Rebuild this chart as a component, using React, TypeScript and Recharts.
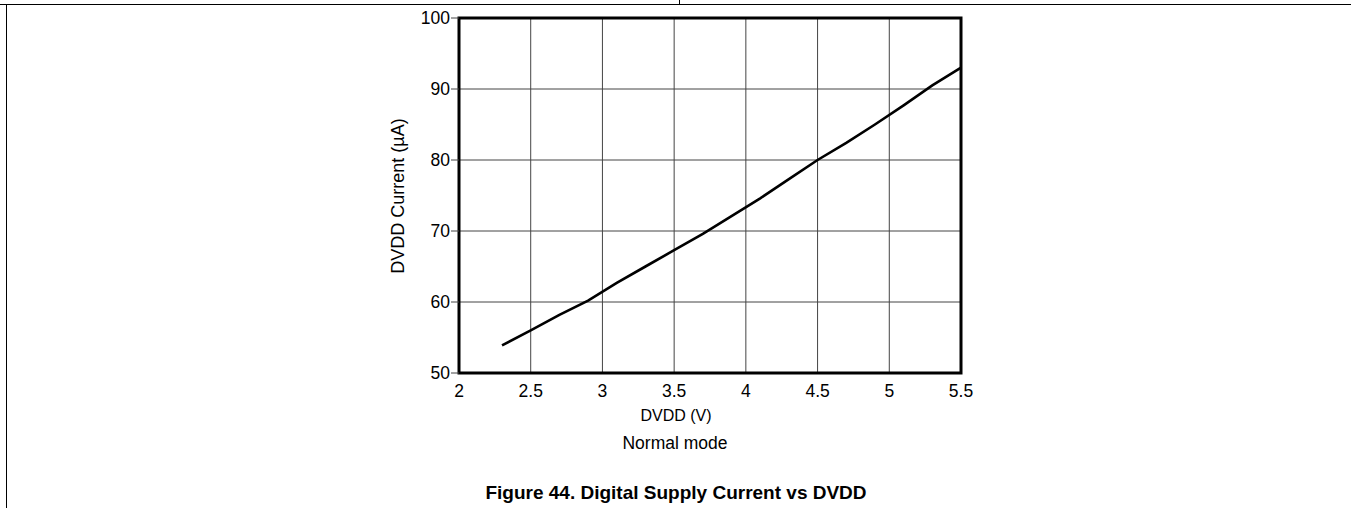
import React from 'react';
import { CartesianGrid, Line, LineChart, ReferenceArea, XAxis, YAxis } from 'recharts';

const VOLTAGE = [2.3, 2.5, 2.7, 2.9, 3.1, 3.3, 3.5, 3.7, 3.9, 4.1, 4.3, 4.5, 4.7, 4.9, 5.1, 5.3, 5.5];
const CURRENT = [53.9, 56.0, 58.2, 60.2, 62.7, 65.0, 67.3, 69.6, 72.1, 74.6, 77.3, 80.0, 82.4, 85.0, 87.7, 90.5, 93.0];
const X_TICKS = [2, 2.5, 3, 3.5, 4, 4.5, 5, 5.5];
const Y_TICKS = [50, 60, 70, 80, 90, 100];

const W = 1351;
const H = 508;
const FONT = '"Liberation Sans", Arial, sans-serif';

const XTick = ({ x, y, payload }: any) => (
  <text x={x} y={y} dy={14} textAnchor="middle" fontSize={17.5} fontFamily={FONT} fill="#000">
    {payload.value}
  </text>
);

const YTick = ({ x, y, payload }: any) => (
  <text x={x} y={y} dy={6} textAnchor="end" fontSize={17.5} fontFamily={FONT} fill="#000">
    {payload.value}
  </text>
);

export default function App() {
  const data = VOLTAGE.map((v, i) => ({ v, i: CURRENT[i] }));

  return (
    <div style={{ position: 'fixed', left: 0, top: 0, width: W, height: H, background: '#fff', fontFamily: FONT }}>
      {/* page frame bits */}
      <div style={{ position: 'absolute', left: 0, top: 4, width: W, height: 1, background: '#000' }} />
      <div style={{ position: 'absolute', left: 6, top: 4, width: 1, height: H - 4, background: '#000' }} />
      <div style={{ position: 'absolute', left: 679, top: 0, width: 1, height: 4, background: '#000' }} />

      <LineChart width={W} height={H} data={data} margin={{ top: 18, right: 390, bottom: 105, left: 399 }}>
        <CartesianGrid stroke="#444" strokeWidth={1} />
        <XAxis
          dataKey="v"
          type="number"
          domain={[2, 5.5]}
          ticks={X_TICKS}
          height={30}
          axisLine={false}
          tickLine={false}
          tickSize={8}
          tickMargin={2}
          tick={<XTick />}
          interval={0}
        />
        <YAxis
          type="number"
          domain={[50, 100]}
          ticks={Y_TICKS}
          width={60}
          axisLine={false}
          tickLine={{ stroke: '#444' }}
          tickSize={8}
          tickMargin={1}
          tick={<YTick />}
          interval={0}
        />
        <ReferenceArea x1={2} x2={5.5} y1={50} y2={100} fill="none" stroke="#000" strokeWidth={3} ifOverflow="visible" />
        <Line
          dataKey="i"
          type="linear"
          stroke="#000"
          strokeWidth={2.6}
          dot={false}
          isAnimationActive={false}
        />
      </LineChart>

      <div style={{ position: 'absolute', left: 398, top: 196, transform: 'translate(-50%, -50%) rotate(-90deg)', fontSize: 18, whiteSpace: 'nowrap' }}>
        DVDD Current (µA)
      </div>
      <div style={{ position: 'absolute', left: 676, top: 416, transform: 'translate(-50%, -50%)', fontSize: 16, whiteSpace: 'nowrap' }}>
        DVDD (V)
      </div>
      <div style={{ position: 'absolute', left: 675, top: 443, transform: 'translate(-50%, -50%)', fontSize: 17.5, whiteSpace: 'nowrap' }}>
        Normal mode
      </div>
      <div style={{ position: 'absolute', left: 676, top: 493, transform: 'translate(-50%, -50%)', fontSize: 19, fontWeight: 'bold', whiteSpace: 'nowrap' }}>
        Figure 44. Digital Supply Current vs DVDD
      </div>
    </div>
  );
}
